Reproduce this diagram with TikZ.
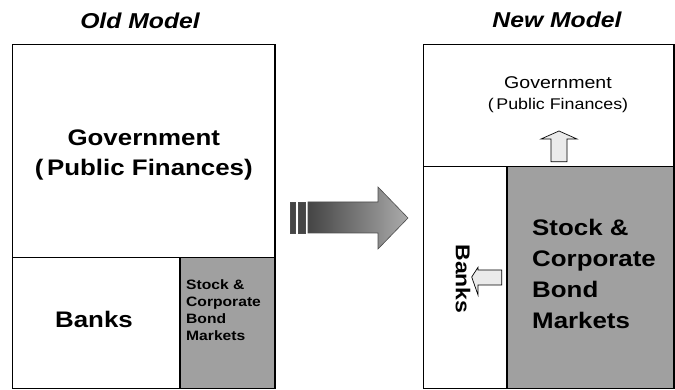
\documentclass[tikz,border=0pt]{standalone}
\usepackage{fontspec}
\setmainfont{Liberation Sans}[FakeStretch=1.15]
\usetikzlibrary{calc}
\definecolor{mktgray}{HTML}{A0A0A0}
\definecolor{arrowfill}{HTML}{EBEBEB}
\definecolor{shadedark}{HTML}{454545}
\definecolor{shadelight}{HTML}{ABABAB}

\begin{document}
\begin{tikzpicture}[x=1pt,y=-1pt]
    \begin{scope}[line join=miter]

      % defines
      \pgfmathsetmacro\OldL{12.5}  % old model left
      \pgfmathsetmacro\OldR{275}   % old model right
      \pgfmathsetmacro\NewL{423.7} % new model left
      \pgfmathsetmacro\NewR{674}   % new model right
      \pgfmathsetmacro\TopY{44.7}  % top of both boxes
      \pgfmathsetmacro\BotY{388.5} % bottom of both boxes
      \pgfmathsetmacro\OldSplit{257.7} % old horizontal divider
      \pgfmathsetmacro\NewSplit{166.7} % new horizontal divider

      \useasboundingbox (0,0) rectangle (675,390);

      % titles
      \node (OT) at (140,21) [font=\fontsize{21.5}{24}\selectfont\bfseries\itshape] {Old Model};
      \node (NT) at (557,20) [font=\fontsize{21.5}{24}\selectfont\bfseries\itshape] {New Model};

      % old model: government, banks, markets
      \draw[line width=1.2pt] (\OldL,\TopY) rectangle (\OldR,\OldSplit);
      \node (OG) at ({(\OldL+\OldR)/2},155) [align=center,font=\fontsize{22.5}{30}\selectfont\bfseries]
        {Government\\(\,Public Finances)};
      \draw[line width=1.2pt] (\OldL,\OldSplit) rectangle (180,\BotY);
      \node (OB) at (94,319) [font=\fontsize{22.5}{24}\selectfont\bfseries] {Banks};
      \draw[line width=1.2pt,fill=mktgray] (180,\OldSplit) rectangle (\OldR,\BotY);
      \node (OS) at (186,279) [anchor=north west,align=left,inner sep=0pt,font=\fontsize{13.6}{17.3}\selectfont\bfseries]
        {Stock \&\\Corporate\\Bond\\Markets};

      % big arrow between models
      \fill[shadedark,draw=black!70,line width=0.6pt] (290,202) rectangle (295,233);
      \fill[shadedark,draw=black!70,line width=0.6pt] (298,202) rectangle (305,233);
      \shade[left color=shadedark,right color=shadelight,draw=black!70,line width=0.6pt]
        (308,202) -- (378,202) -- (378,187) -- (408,218) -- (378,249) -- (378,233) -- (308,233) -- cycle;

      % new model: government, banks, markets
      \draw[line width=1.2pt] (\NewL,\TopY) rectangle (\NewR,\NewSplit);
      \node (NG) at (558,94.5) [align=center,font=\fontsize{17}{21}\selectfont]
        {Government\\{\fontsize{15.5}{21}\selectfont(\,Public Finances)}};
      \draw[line width=1.2pt] (\NewL,\NewSplit) rectangle (507,\BotY);
      \draw[line width=1.2pt,fill=mktgray] (507,\NewSplit) rectangle (\NewR,\BotY);
      \node (NS) at (532,219) [anchor=north west,align=left,inner sep=0pt,font=\fontsize{22.5}{31}\selectfont\bfseries]
        {Stock \&\\Corporate\\Bond\\Markets};

      % small arrows in new model
      \filldraw[fill=arrowfill,draw=black,line width=0.7pt]
        (559,131) -- (577,139) -- (567,139) -- (567,161.7) -- (551,161.7) -- (551,139) -- (541,139) -- cycle;
      \filldraw[fill=arrowfill,draw=black,line width=0.7pt]
        (471.7,277) -- (478,267.3) -- (478,270) -- (501.7,270) -- (501.7,285) -- (478,285) -- (478,295) -- cycle;
      \node (NB) at (463,279) [rotate=-90,font=\fontsize{20}{22}\selectfont\bfseries] {Banks};

    \end{scope}
\end{tikzpicture}
\end{document}
